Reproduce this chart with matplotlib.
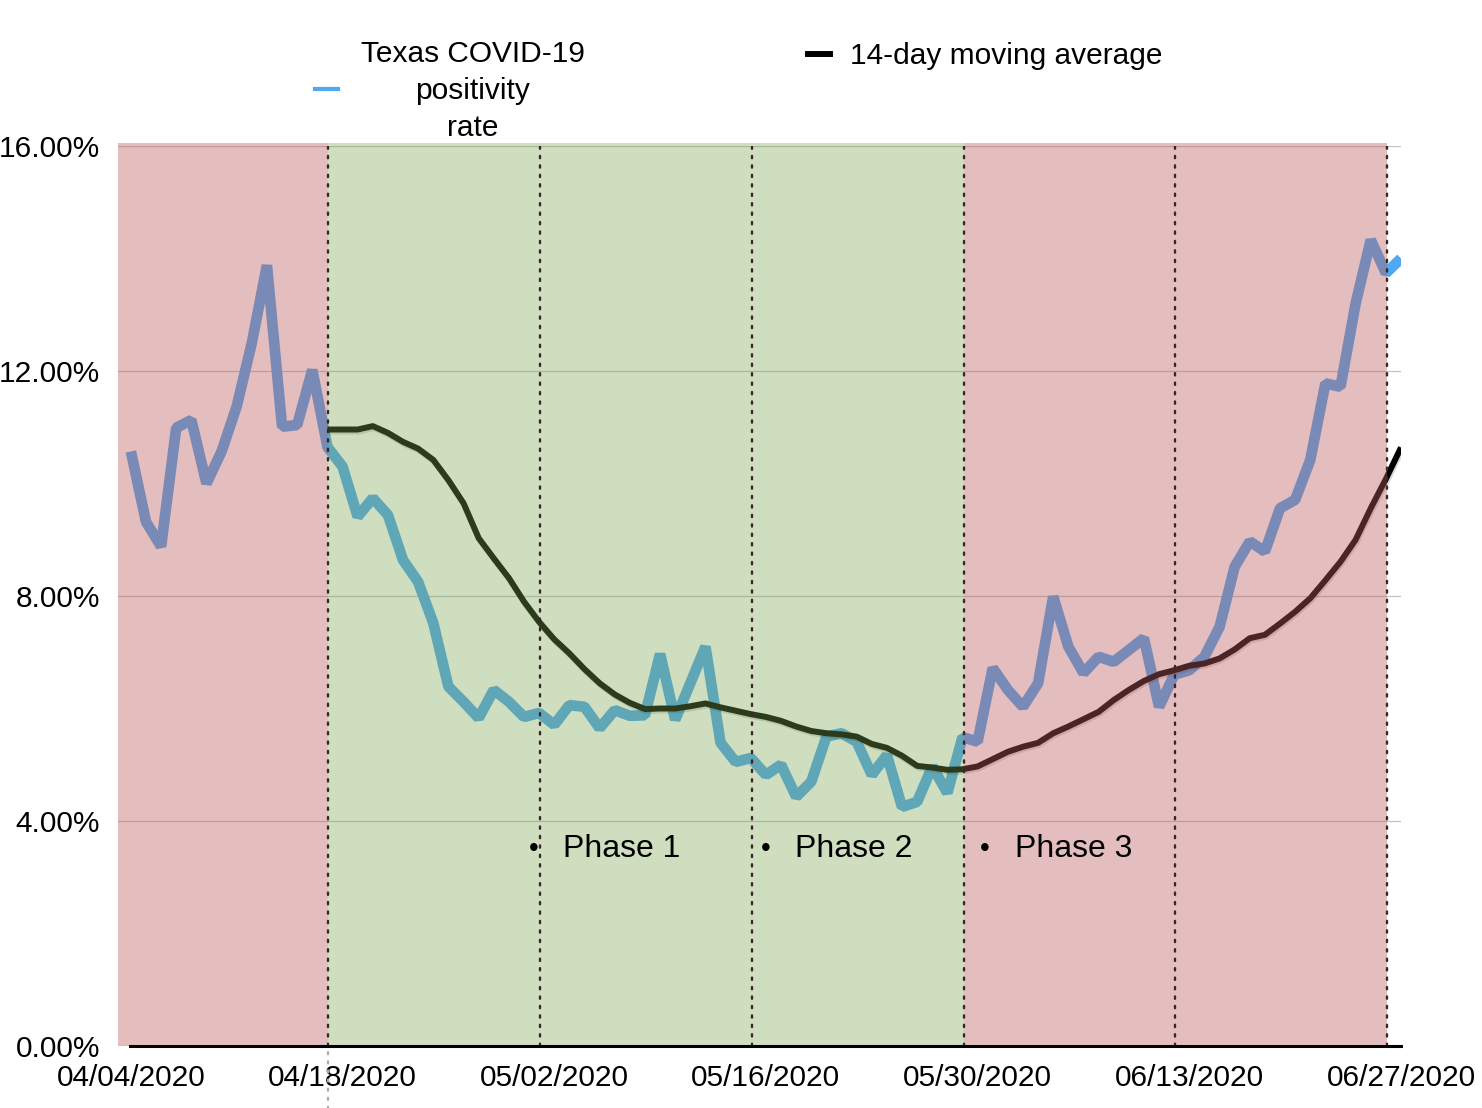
import matplotlib
matplotlib.use('Agg')
import matplotlib.pyplot as plt
import matplotlib.patheffects as pe
from matplotlib.lines import Line2D

plt.rcParams['font.family'] = ['Liberation Sans', 'DejaVu Sans']

# tick labels, one every 14 days (day 0 = 04/04/2020)
tick_days = [0, 14, 28, 42, 56, 70, 84]
tick_labels = ['04/04/2020', '04/18/2020', '05/02/2020', '05/16/2020',
               '05/30/2020', '06/13/2020', '06/27/2020']

# daily positivity rate (%), 04/04 - 06/27
positivity = [10.57, 9.32, 8.88, 10.99, 11.13, 10.0, 10.57, 11.37, 12.5, 13.88,
              11.01, 11.04, 12.02, 10.65, 10.3, 9.41, 9.74, 9.44, 8.64, 8.25,
              7.52, 6.39, 6.12, 5.83, 6.33, 6.12, 5.85, 5.92, 5.71, 6.06,
              6.03, 5.65, 5.97, 5.87, 5.88, 6.97, 5.8, 6.45, 7.1, 5.39,
              5.05, 5.12, 4.82, 5.0, 4.43, 4.7, 5.5, 5.56, 5.41, 4.82,
              5.17, 4.25, 4.34, 4.97, 4.5, 5.49, 5.41, 6.72, 6.33, 6.03,
              6.45, 7.99, 7.1, 6.63, 6.92, 6.83, 7.04, 7.25, 6.03, 6.6,
              6.68, 6.92, 7.45, 8.52, 8.97, 8.79, 9.56, 9.71, 10.42, 11.78,
              11.72, 13.2, 14.33, 13.74, 14.0]

# 14-day moving average (%), starts on day 13 (04/17)
ma_start = 13
moving_avg = [10.96, 10.96, 10.96, 11.02, 10.9, 10.74, 10.62, 10.42, 10.06, 9.65,
              9.03, 8.67, 8.32, 7.9, 7.54, 7.23, 6.98, 6.7, 6.45, 6.25, 6.1,
              5.99, 6.0, 6.0, 6.04, 6.09, 6.02, 5.96, 5.9, 5.85, 5.78,
              5.68, 5.6, 5.56, 5.54, 5.5, 5.37, 5.3, 5.16, 4.98, 4.95, 4.91, 4.92,
              4.97, 5.1, 5.23, 5.32, 5.39, 5.56, 5.68, 5.81, 5.94, 6.15,
              6.33, 6.49, 6.61, 6.68, 6.76, 6.8, 6.89,
              7.05, 7.25, 7.31, 7.51, 7.72, 7.96, 8.28, 8.61, 9.0, 9.56, 10.08, 10.64]

# shaded two-week blocks (start, end, colour)
block_edges = [-0.85, 13.07, 27.07, 41.07, 55.07, 69.07, 83.07]
block_colors = ['red', 'green', 'green', 'green', 'red', 'red']

phases = ['Phase 1', 'Phase 2', 'Phase 3']
phase_x = [26.65, 42.0, 56.5]

fill = {'red': ('#BD5D5D', 0.40), 'green': ('#7EA551', 0.36)}

W, H = 1482, 1108
fig = plt.figure(figsize=(W / 100, H / 100), dpi=100)
ax = fig.add_axes([118 / W, 1 - 1046 / H, (1401 - 118) / W, (1046 - 146) / H])

days = list(range(len(positivity)))
ma_days = list(range(ma_start, ma_start + len(moving_avg)))

ax.plot(days, positivity, color='#4FA9F2', lw=7.7, solid_joinstyle='bevel',
        solid_capstyle='butt', zorder=1)
ax.plot(ma_days, moving_avg, color='#000000', lw=4.3, solid_capstyle='butt', zorder=1.1,
        path_effects=[pe.SimpleLineShadow(offset=(0.8, -1.5), shadow_color='k', alpha=0.15),
                      pe.Normal()])

# shading over the lines
for i, c in enumerate(block_colors):
    col, a = fill[c]
    ax.axvspan(block_edges[i], block_edges[i + 1], ymin=0, ymax=1.0035,
               color=col, alpha=a, lw=0, zorder=2, clip_on=False)

for x in block_edges[1:]:
    ax.axvline(x, color='#3a2626', lw=1.7, ls=(0, (1, 3)), dash_capstyle='round', zorder=3)
ax.plot([block_edges[1]] * 2, [-0.07, 0], transform=ax.get_xaxis_transform(),
        color='#aaaaaa', lw=1.6, ls=(0, (1, 3.1)), dash_capstyle='round', clip_on=False)

for name, x in zip(phases, phase_x):
    ax.text(x, 3.5, '\u2022', fontsize=20, ha='center', va='center', zorder=4)
    ax.text(x + 1.95, 3.5, name, fontsize=23, ha='left', va='center', zorder=4)

ax.set_xlim(-0.85, 84)
ax.set_ylim(0, 16)
ax.set_xticks(tick_days)
ax.set_xticklabels(tick_labels)
ax.set_yticks([0, 4, 8, 12, 16])
ax.set_yticklabels(['0.00%', '4.00%', '8.00%', '12.00%', '16.00%'])
ax.tick_params(length=0, labelsize=21.5)
ax.tick_params(axis='x', pad=13)
ax.tick_params(axis='y', pad=13)

ax.set_axisbelow(True)
ax.grid(axis='y', color='#c4c4c4', lw=0.9)
for s in ['left', 'right', 'top']:
    ax.spines[s].set_visible(False)
ax.spines['bottom'].set_linewidth(2.2)
ax.spines['bottom'].set_bounds(-0.06, 84)
ax.spines['bottom'].set_zorder(3)

# legend drawn by hand
fig.add_artist(Line2D([315 / W, 338 / W], [1 - 89 / H] * 2, color='#4FA9F2', lw=3))
fig.text(473 / W, 1 - 91 / H, 'Texas COVID-19\npositivity\nrate', ha='center', va='center',
         fontsize=21.5, linespacing=1.42)
fig.add_artist(Line2D([808 / W, 830 / W], [1 - 54 / H] * 2, color='black', lw=4.3))
fig.text(850 / W, 1 - 56 / H, '14-day moving average', ha='left', va='center', fontsize=21.5)

fig.savefig('out.png', dpi=100)
